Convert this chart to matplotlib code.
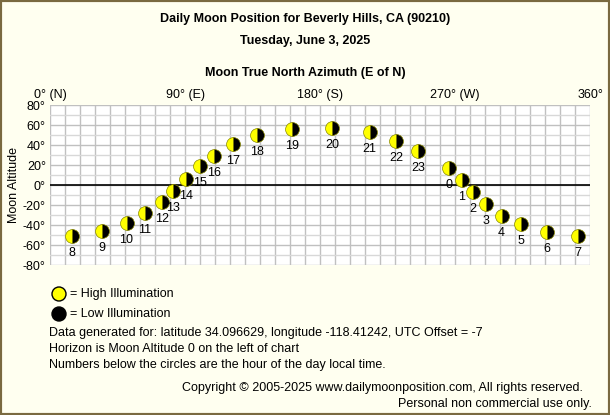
import matplotlib.pyplot as plt
from matplotlib.patches import Ellipse

plt.rcParams["font.family"] = "Liberation Sans"

# Hour of day, azimuth (deg E of N), altitude (deg)
hours = [8, 9, 10, 11, 12, 13, 14, 15, 16, 17, 18, 19, 20, 21, 22, 23, 0, 1, 2, 3, 4, 5, 6, 7]
azimuth = [14.4, 34.9, 51, 63, 74.7, 82, 90.7, 100, 109.3, 122, 138, 161.6,
           188, 213, 230.7, 245.5, 266, 274.4, 282, 290.7, 301, 314, 331, 352]
altitude = [-51, -46, -38, -28, -17, -6, 6, 19, 29, 41, 50, 56,
            57, 53, 44, 34, 17, 5, -7, -19, -31, -39, -47, -51]

x_ticks = [0, 90, 180, 270, 360]
x_labels = ["0° (N)", "90° (E)", "180° (S)", "270° (W)", "360°"]
y_ticks = list(range(-80, 81, 20))

W, H = 610, 415
bg = "#FFFFF0"
fs = 9
fig = plt.figure(figsize=(W / 100, H / 100), dpi=100, facecolor=bg)
fig.patches.append(plt.Rectangle((0, 0), 1, 1, transform=fig.transFigure,
                                 fill=False, edgecolor="#7a6a40", linewidth=3))

ax = fig.add_axes([50 / W, 1 - 265 / H, 540 / W, 160 / H], facecolor="white")
ax.set_xlim(0, 360)
ax.set_ylim(-80, 80)
for v in range(0, 361, 10):
    ax.axvline(v, color="#c0c0c0", lw=1, zorder=0)
for v in range(-80, 81, 10):
    ax.axhline(v, color="#c0c0c0" if v % 20 == 0 else "#d8d8d8", lw=1, zorder=0)
ax.axhline(0, color="black", lw=1.2, zorder=1)
for s in ax.spines.values():
    s.set_visible(False)

ax.xaxis.tick_top()
ax.set_xticks(x_ticks)
ax.set_xticklabels(x_labels, fontsize=fs)
ax.set_yticks(y_ticks)
ax.set_yticklabels([f"{v}°" for v in y_ticks], fontsize=fs)
ax.tick_params(length=0, pad=3)
ax.set_ylabel("Moon Altitude", fontsize=fs, labelpad=2)

ax.plot(azimuth, altitude, "o", ms=10, fillstyle="left", markerfacecolor="yellow",
        markerfacecoloralt="black", markeredgecolor="#888800", markeredgewidth=0.5,
        zorder=3)
for h, a, al in zip(hours, azimuth, altitude):
    ax.annotate(str(h), (a, al), xytext=(0, -12), textcoords="offset points",
                ha="center", va="center", fontsize=fs, zorder=4)

fig.text(305 / W, 1 - 19 / H, "Daily Moon Position for Beverly Hills, CA (90210)",
         ha="center", va="center", fontsize=fs, fontweight="bold")
fig.text(305 / W, 1 - 41 / H, "Tuesday, June 3, 2025",
         ha="center", va="center", fontsize=fs, fontweight="bold")
fig.text(305 / W, 1 - 73 / H, "Moon True North Azimuth (E of N)",
         ha="center", va="center", fontsize=fs, fontweight="bold")

# legend
for yy, col in [(294, "yellow"), (314, "black")]:
    fig.patches.append(Ellipse((59 / W, 1 - yy / H), 14 / W, 14 / H,
                               transform=fig.transFigure, facecolor=col,
                               edgecolor="black", lw=1))
fig.text(70 / W, 1 - 294 / H, "= High Illumination", fontsize=fs, va="center")
fig.text(70 / W, 1 - 314 / H, "= Low Illumination", fontsize=fs, va="center")

notes = ["Data generated for: latitude 34.096629, longitude -118.41242, UTC Offset = -7",
         "Horizon is Moon Altitude 0 on the left of chart",
         "Numbers below the circles are the hour of the day local time."]
for i, t in enumerate(notes):
    fig.text(49 / W, 1 - (333 + 16 * i) / H, t, fontsize=fs, va="center")

fig.text(583 / W, 1 - 388 / H, "Copyright © 2005-2025 www.dailymoonposition.com, All rights reserved.",
         fontsize=fs, ha="right", va="center")
fig.text(592 / W, 1 - 404 / H, "Personal non commercial use only.",
         fontsize=fs, ha="right", va="center")

fig.savefig("out.png", dpi=100, facecolor=bg)
